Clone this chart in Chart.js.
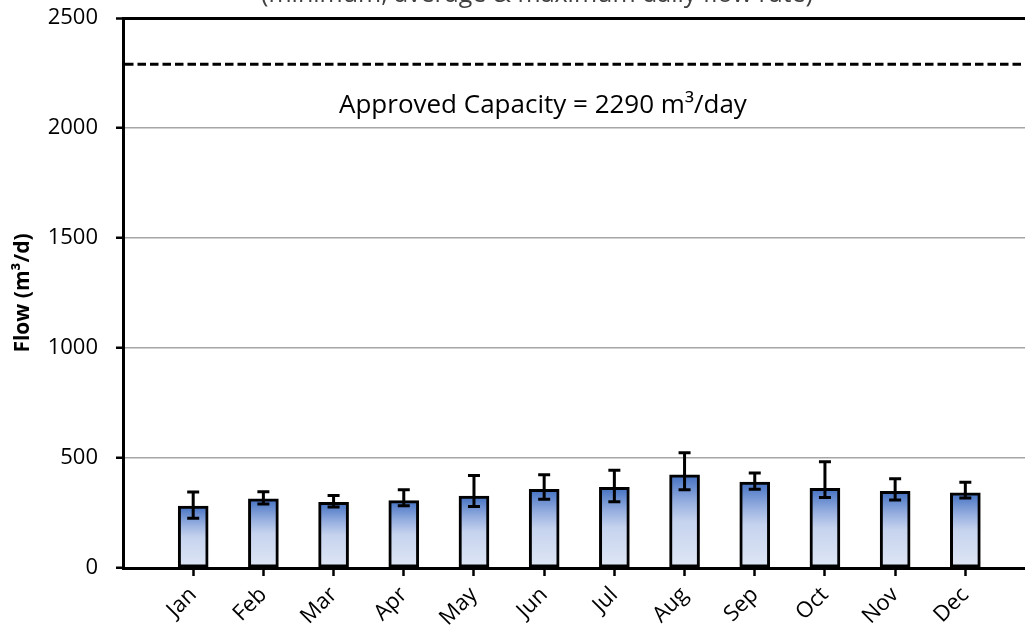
<!DOCTYPE html>
<html>
<head>
<meta charset="utf-8">
<script src="https://cdn.jsdelivr.net/npm/chart.js@4.4.0/dist/chart.umd.min.js"></script>
<style>
  html, body { margin: 0; padding: 0; background: #fff; }
  canvas { display: block; }
</style>
</head>
<body>
<canvas id="flow" width="1025" height="635"></canvas>
<script>
const months = ['Jan', 'Feb', 'Mar', 'Apr', 'May', 'Jun', 'Jul', 'Aug', 'Sep', 'Oct', 'Nov', 'Dec']
const avgFlow = [282, 314, 298, 306, 327, 358, 367, 424, 391, 362, 349, 342]
const minFlow = [226, 291, 277, 283, 279, 312, 301, 356, 358, 321, 309, 318]
const maxFlow = [345, 347, 329, 356, 420, 424, 444, 524, 432, 483, 406, 390]
const capacity = 2290
const yTicks = [0, 500, 1000, 1500, 2000, 2500]
const titleText = '(minimum, average & maximum daily flow rate)'
const capacityText = 'Approved Capacity = ' + capacity + ' m³/day'

let bar_fill = function (ctx) {
  let chart = ctx.chart
  if (!chart.chartArea || !ctx.raw) return '#8faadc'
  let y = chart.scales.y
  let top = y.getPixelForValue(ctx.raw.y)
  let bottom = y.getPixelForValue(0)
  let g = chart.ctx.createLinearGradient(0, top, 0, bottom)
  g.addColorStop(0, '#4270c2')
  g.addColorStop(0.3, '#98b0e0')
  g.addColorStop(0.5, '#c6d3ee')
  g.addColorStop(1, '#dfe7f5')
  return g
}

let extras = {
  id: 'extras',
  afterDatasetsDraw(chart) {
    let { ctx, chartArea, scales } = chart
    let x = scales.x, y = scales.y
    ctx.save()
    // error bars
    ctx.strokeStyle = '#000'
    ctx.lineWidth = 3
    ctx.lineCap = 'butt'
    months.forEach((m, i) => {
      let px = x.getPixelForValue(i + 1)
      let lo = y.getPixelForValue(minFlow[i])
      let hi = y.getPixelForValue(maxFlow[i])
      ctx.beginPath()
      ctx.moveTo(px, lo); ctx.lineTo(px, hi)
      ctx.moveTo(px - 6, lo); ctx.lineTo(px + 6, lo)
      ctx.moveTo(px - 6, hi); ctx.lineTo(px + 6, hi)
      ctx.stroke()
    })
    // capacity line
    let cy = y.getPixelForValue(capacity)
    ctx.setLineDash([8.5, 4])
    ctx.beginPath()
    ctx.moveTo(chartArea.left + 2, cy)
    ctx.lineTo(chartArea.right, cy)
    ctx.stroke()
    ctx.setLineDash([])
    // capacity label
    ctx.fillStyle = '#000'
    ctx.font = '26px "Open Sans"'
    ctx.textAlign = 'left'
    ctx.textBaseline = 'alphabetic'
    ctx.fillText(capacityText, 339, 113)
    // title (cut off at the top)
    ctx.fillStyle = '#404040'
    ctx.font = '25px "Open Sans"'
    ctx.textAlign = 'center'
    ctx.fillText(titleText, 537, 1.5)
    ctx.restore()
  }
}

let config = {
  type: 'bar',
  data: {
    datasets: [{
      label: 'Average',
      data: avgFlow.map((v, i) => ({ x: i + 1, y: v })),
      backgroundColor: bar_fill,
      borderColor: '#000',
      borderWidth: 3,
      borderSkipped: false,
      barThickness: 30
    }]
  },
  options: {
    responsive: false,
    animation: false,
    layout: { padding: { top: 18, right: 0, left: 0, bottom: 0 } },
    plugins: {
      legend: { display: false },
      tooltip: { enabled: false }
    },
    scales: {
      x: {
        type: 'linear',
        min: 0,
        max: 12.85,
        offset: false,
        afterBuildTicks: scale => {
          scale.ticks = months.map((m, i) => ({ value: i + 1 }))
        },
        afterFit: scale => {
          scale.height = 67
          scale.paddingLeft = 0
          scale.paddingRight = 0
        },
        grid: {
          offset: false,
          drawOnChartArea: false,
          tickLength: 8,
          tickColor: '#000',
          tickWidth: 2.5
        },
        border: { color: '#000', width: 3 },
        ticks: {
          autoSkip: false,
          minRotation: 45,
          maxRotation: 45,
          padding: 6,
          color: '#000',
          font: { family: 'Open Sans', size: 22 },
          callback: v => months[v - 1]
        }
      },
      y: {
        min: 0,
        max: 2500,
        afterBuildTicks: scale => {
          scale.ticks = yTicks.map(v => ({ value: v }))
        },
        afterFit: scale => {
          scale.width = 123
          scale.paddingTop = 0
          scale.paddingBottom = 0
        },
        grid: {
          color: c => c.tick && c.tick.value == 2500 ? '#000' : '#a6a6a6',
          lineWidth: c => c.tick && c.tick.value == 2500 ? 3 : 1.5,
          tickLength: 7,
          tickColor: '#000',
          tickWidth: 2.5
        },
        border: { color: '#000', width: 3 },
        ticks: {
          padding: 18,
          color: '#000',
          font: { family: 'Open Sans', size: 22 },
          callback: v => String(v)
        },
        title: {
          display: true,
          text: 'Flow (m³/d)',
          color: '#000',
          font: { family: 'Open Sans', size: 21, weight: 'bold' },
          padding: { top: 10, bottom: 0 }
        }
      }
    }
  },
  plugins: [extras]
}

new Chart(document.getElementById('flow'), config)
</script>
</body>
</html>
